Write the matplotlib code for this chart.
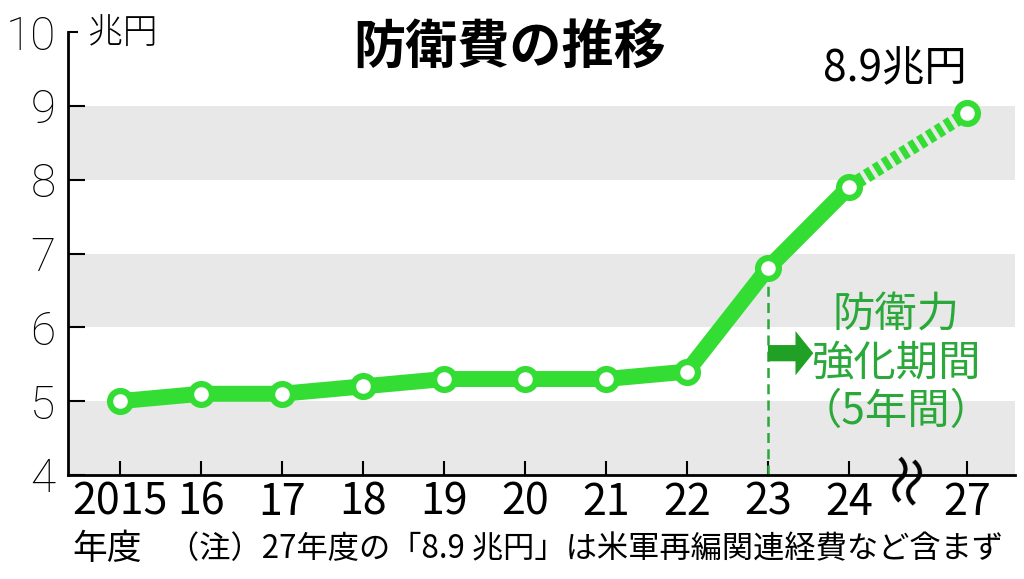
import numpy as np
import matplotlib
matplotlib.use("Agg")
import matplotlib.pyplot as plt

plt.rcParams['font.family'] = ['Noto Sans CJK JP', 'DejaVu Sans']

# data
years = ['2015', '16', '17', '18', '19', '20', '21', '22', '23', '24', '27']
budget = [5.0, 5.1, 5.1, 5.2, 5.3, 5.3, 5.3, 5.4, 6.8, 7.9, 8.9]
bands = [(4, 5), (6, 7), (8, 9)]
yticks = [4, 5, 6, 7, 8, 9]

green = '#33dd33'
dkgreen = '#2aa83a'

# x layout: 27 sits a bit further after the axis break
xpos = np.arange(len(years), dtype=float)
xpos[-1] = xpos[-2] + 1.46

fig = plt.figure(figsize=(10.24, 5.79), dpi=100)
ax = fig.add_axes([68/1024, 1-475/579, (1015-68)/1024, (475-32)/579])
ax.set_xlim(-0.64, 11.05)
ax.set_ylim(4, 10)

for lo, hi in bands:
    ax.axhspan(lo, hi, color='#e8e8e8', lw=0, zorder=0)

# solid part up to 24, dotted to 27
ax.plot(xpos[:-1], budget[:-1], color=green, lw=11.5, solid_capstyle='butt', zorder=3)
ax.plot(xpos[-2:], budget[-2:], color=green, lw=10, ls=(0, (0.45, 0.3)), zorder=3)
ax.plot(xpos, budget, ls='none', marker='o', ms=15, mfc='white', mec=green, mew=4.5, zorder=4)

# start of build-up period
i23 = years.index('23')
ax.plot([xpos[i23], xpos[i23]], [4, budget[i23]], color=dkgreen, lw=1.8, ls=(0, (4, 2.5)), zorder=2)
ax.arrow(xpos[i23], 5.65, 0.34, 0, width=0.22, head_width=0.6, head_length=0.22,
         length_includes_head=False, color='#20a024', lw=0, zorder=5)
ax.text(9.58, 5.51, '防衛力\n強化期間\n（5年間）', color=dkgreen, fontsize=30.5,
        ha='center', va='center', linespacing=1.12, zorder=5)

ax.text(9.57, 9.49, '8.9兆円', fontsize=30.5, ha='center', va='center', clip_on=False)

# axis break mark
ax.text((xpos[-2] + xpos[-1]) / 2 - 0.01, 4.0, '≈', fontsize=44, rotation=78,
        ha='center', va='center', clip_on=False, zorder=6)

for s in ['top', 'right']:
    ax.spines[s].set_visible(False)
ax.spines['left'].set_linewidth(2)
ax.spines['bottom'].set_linewidth(2)

yfont = dict(family=['Roboto', 'DejaVu Sans'], fontsize=33, fontweight='light')
ax.set_yticks(yticks)
ax.set_yticklabels([str(v) for v in yticks], **yfont)
ax.set_yticks([10], minor=True)
ax.set_yticklabels(['10'], minor=True, **yfont)
ax.tick_params(axis='y', which='major', direction='in', length=12, width=1.5, pad=9)
ax.tick_params(axis='y', which='minor', direction='in', length=7, width=1.5, pad=9)
ax.set_xticks(xpos)
ax.set_xticklabels(years, fontsize=31)
ax.tick_params(axis='x', direction='in', length=10, width=1.5, pad=4)

fig.text(88/1024, 1-33/579, '兆円', fontsize=25, fontweight='light', ha='left', va='center')
fig.text(510/1024, 1-47/579, '防衛費の推移', fontsize=37.5, fontweight='bold', ha='center', va='center')
fig.text(72/1024, 1-549/579, '年度', fontsize=25, ha='left', va='center')
fig.text(168/1024, 1-549/579, '（注）27年度の「8.9 兆円」は米軍再編関連経費など含まず',
         fontsize=22.5, ha='left', va='center')

fig.savefig('out.png', dpi=100)
